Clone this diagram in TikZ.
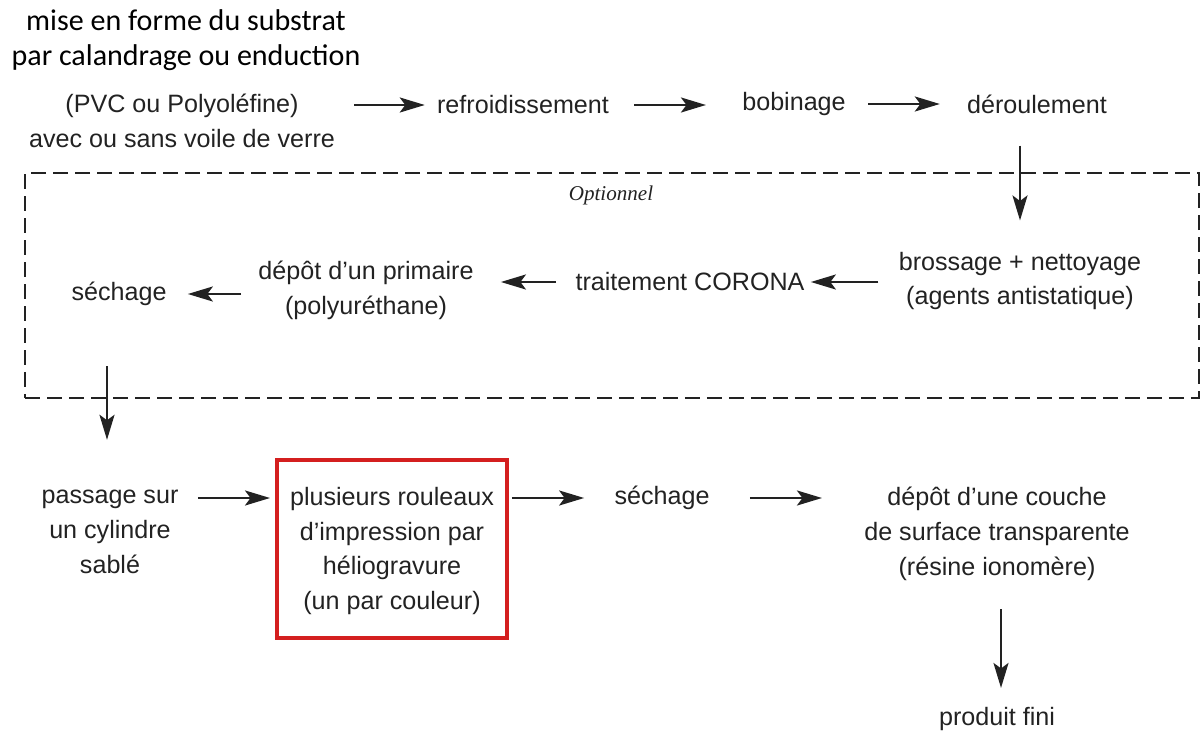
\documentclass[tikz,border=0pt]{standalone}
\usepackage{fontspec}
\setmainfont{Liberation Sans}
\newfontfamily\titlefont{Carlito}
\newfontfamily\optfont{Liberation Serif}
\usetikzlibrary{arrows.meta}
\newdimen\pxu \pxu=0.02cm
\definecolor{txt}{HTML}{222222}
\definecolor{boxred}{HTML}{D41F1F}
\begin{document}
\begin{tikzpicture}[x=0.02cm,y=-0.02cm,
  lbl/.style={inner sep=0pt, align=center, text=txt, font=\fontsize{14.3}{19.9}\selectfont},
  ttl/.style={inner sep=0pt, align=center, text=black, font=\titlefont\fontsize{17.1}{19.9}\selectfont},
  arr/.style={line width=1.4pt, draw=txt, -{Stealth[length=0.5cm,width=0.3cm,inset=0.11cm]}},
  optbox/.style={draw=txt, line width=0.85pt, dash pattern=on 0.3cm off 0.14cm, minimum width=23.48cm, minimum height=4.5cm, inner sep=0pt},
  redbox/.style={draw=boxred, line width=0.08cm, minimum width=4.6cm, minimum height=3.56cm, inner sep=0pt}]
\useasboundingbox (0,0) rectangle (1200,733);

% title
\node[ttl] (title) at (186,40) {mise en forme du substrat\\par calandrage ou enduction};

% top row
\node[lbl] (pvc) at (182,121) {(PVC ou Polyoléfine)\\avec ou sans voile de verre};
\node[lbl] (refr) at (523,105) {refroidissement};
\node[lbl] (bob) at (794,104) {bobinage};
\node[lbl] (der) at (1037,104) {déroulement};

% optional box
\node[optbox] (opt) at (612,285.5) {};
\node[inner sep=0pt, text=txt, font=\optfont\itshape\fontsize{12}{14}\selectfont] (optl) at (611,195) {Optionnel};

\node[lbl] (bros) at (1020,281) {brossage + nettoyage\\(agents antistatique)};
\node[lbl] (cor) at (690,282) {traitement CORONA};
\node[lbl] (prim) at (366,290) {dépôt d’un primaire\\(polyuréthane)};
\node[lbl] (sech1) at (119,294) {séchage};

% bottom row
\node[lbl] (pass) at (110,532) {passage sur\\un cylindre\\sablé};
\node[redbox] (red) at (392,549) {};
\node[lbl] (redt) at (392,551) {plusieurs rouleaux\\d’impression par\\héliogravure\\(un par couleur)};
\node[lbl] (sech2) at (662,498) {séchage};
\node[lbl] (couche) at (997,534) {dépôt d’une couche\\de surface transparente\\(résine ionomère)};
\node[lbl] (fini) at (997,719) {produit fini};

% connectors
\draw[arr, shorten <=19\pxu, shorten >=12\pxu] (pvc.east |- refr.west) -- (refr.west);
\draw[arr, shorten <=25\pxu, shorten >=36\pxu] (refr.east) -- (refr.east -| bob.west);
\draw[arr, shorten <=22\pxu, shorten >=27\pxu] (bob.east) -- (bob.east -| der.west);
\draw[arr, shorten <=32\pxu, shorten >=31\pxu] (bros.north |- der.south) -- (bros.north);
\draw[arr, shorten <=20\pxu, shorten >=6\pxu] (bros.west |- cor.east) -- (cor.east);
\draw[arr, shorten <=19\pxu, shorten >=27\pxu] (cor.west) -- (cor.west -| prim.east);
\draw[arr, shorten <=17\pxu, shorten >=21\pxu] (prim.west |- sech1.east) -- (sech1.east);
\draw[arr, shorten <=60\pxu, shorten >=50\pxu] ([xshift=-12\pxu]sech1.south) -- ([xshift=-12\pxu]sech1.south |- pass.north);
\draw[arr, shorten <=19\pxu, shorten >=5\pxu] (pass.east |- sech2.west) -- (red.west |- sech2.west);
\draw[arr, shorten <=3\pxu, shorten >=30\pxu] (red.east |- sech2.west) -- (sech2.west);
\draw[arr, shorten <=40\pxu, shorten >=42\pxu] (sech2.east) -- (sech2.east -| couche.west);
\draw[arr, shorten <=28\pxu, shorten >=19\pxu] ([xshift=4\pxu]couche.south) -- ([xshift=4\pxu]fini.north);
\end{tikzpicture}
\end{document}
